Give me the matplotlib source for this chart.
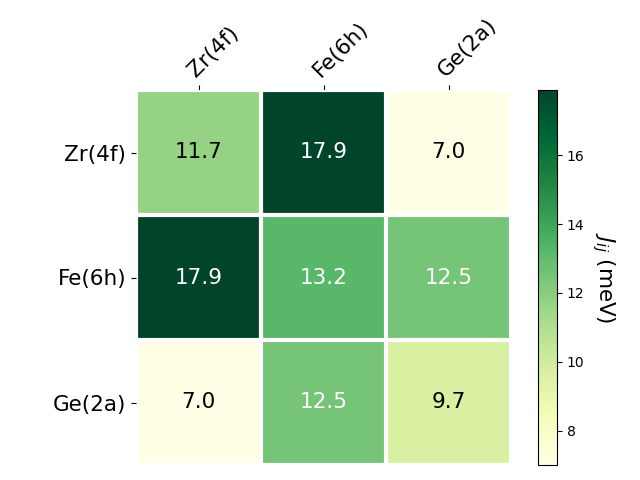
import matplotlib
matplotlib.use("Agg")
import matplotlib.pyplot as plt
import numpy as np

labels = ["Zr(4f)", "Fe(6h)", "Ge(2a)"]
values = [[11.7, 17.9, 7.0],
          [17.9, 13.2, 12.5],
          [7.0, 12.5, 9.7]]

data = np.array(values)
fig = plt.figure(figsize=(6.4, 4.8), dpi=100)
ax = fig.add_axes([136/640, 1 - 465/480, 375/640, 375/480])
cax = fig.add_axes([538/640, 1 - 465/480, 19/640, 375/480])

im = ax.imshow(data, cmap="YlGn", aspect="auto")
cbar = fig.colorbar(im, cax=cax)
cbar.ax.set_ylabel(r"$J_{ij}$ (meV)", rotation=-90, va="bottom", fontsize=15.5)

ax.set_xticks(np.arange(len(labels)), labels=labels, fontsize=15.5)
ax.set_yticks(np.arange(len(labels)), labels=labels, fontsize=15.5)
ax.tick_params(top=True, bottom=False, labeltop=True, labelbottom=False)
plt.setp(ax.get_xticklabels(), rotation=45, ha="left", rotation_mode="anchor")
for s in ax.spines.values():
    s.set_visible(False)
ax.set_xticks(np.arange(data.shape[1] + 1) - .5, minor=True)
ax.set_yticks(np.arange(data.shape[0] + 1) - .5, minor=True)
ax.grid(which="minor", color="w", linestyle='-', linewidth=3)
ax.tick_params(which="minor", bottom=False, left=False, top=False)

thr = im.norm(data.max()) / 2.0
for i in range(data.shape[0]):
    for j in range(data.shape[1]):
        c = "white" if im.norm(data[i, j]) > thr else "black"
        ax.text(j, i, f"{data[i, j]:.1f}", ha="center", va="center", color=c, fontsize=15.5)

fig.savefig("out.png", dpi=100)
